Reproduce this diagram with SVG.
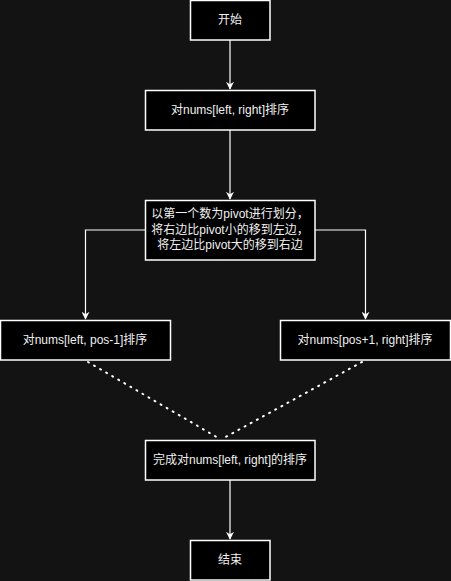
<svg xmlns="http://www.w3.org/2000/svg" width="451" height="581" viewBox="0 0 451 581">
<style>
.box{fill:#000000;stroke:#ffffff;stroke-width:1.5}
.t{font-family:"Liberation Sans","Noto Sans CJK SC",sans-serif;font-size:12px;fill:#f0f0f0;text-anchor:middle;dominant-baseline:central}
.e{fill:none;stroke:#ffffff;stroke-width:1.2}
.d{fill:none;stroke:#ffffff;stroke-width:2;stroke-dasharray:1 6;stroke-linecap:round}
</style>
<defs>
<marker id="ah" viewBox="0 0 10 10" refX="9" refY="5" markerWidth="8" markerHeight="8" markerUnits="userSpaceOnUse" orient="auto">
<path d="M0,0 L10,5 L0,10 L3,5 Z" fill="#ffffff"/>
</marker>
</defs>
<rect width="451" height="581" fill="#131313"/>
<g id="edges">
<path class="e" d="M230,40 L230,89" marker-end="url(#ah)"/>
<path class="e" d="M230,130 L230,199" marker-end="url(#ah)"/>
<path class="e" d="M145,230 L85.5,230 L85.5,319" marker-end="url(#ah)"/>
<path class="e" d="M315,230 L365.5,230 L365.5,319" marker-end="url(#ah)"/>
<path class="d" d="M88,362 L220,439"/>
<path class="d" d="M362,362 L222,439"/>
<path class="e" d="M230,480 L230,539" marker-end="url(#ah)"/>
</g>
<g id="start">
<rect class="box" x="190.5" y="0.5" width="79.5" height="39.5"/>
<text class="t" x="230" y="20">开始</text>
</g>
<g id="sort">
<rect class="box" x="145.5" y="90.5" width="169.5" height="39.5"/>
<text class="t" x="230" y="110">对nums[left, right]排序</text>
</g>
<g id="partition">
<rect class="box" x="145.5" y="200.5" width="169.5" height="59.5"/>
<text class="t" x="230" y="214">以第一个数为pivot进行划分，</text>
<text class="t" x="230" y="230">将右边比pivot小的移到左边，</text>
<text class="t" x="230" y="245"> 将左边比pivot大的移到右边</text>
</g>
<g id="left">
<rect class="box" x="0.5" y="320.5" width="170" height="39.5"/>
<text class="t" x="85" y="340">对nums[left, pos-1]排序</text>
</g>
<g id="right">
<rect class="box" x="280.5" y="320.5" width="170" height="39.5"/>
<text class="t" x="365" y="340">对nums[pos+1, right]排序</text>
</g>
<g id="done">
<rect class="box" x="145.5" y="440.5" width="169.5" height="39.5"/>
<text class="t" x="230" y="460">完成对nums[left, right]的排序</text>
</g>
<g id="end">
<rect class="box" x="190.5" y="540.5" width="79.5" height="39.5"/>
<text class="t" x="230" y="560">结束</text>
</g>
</svg>
